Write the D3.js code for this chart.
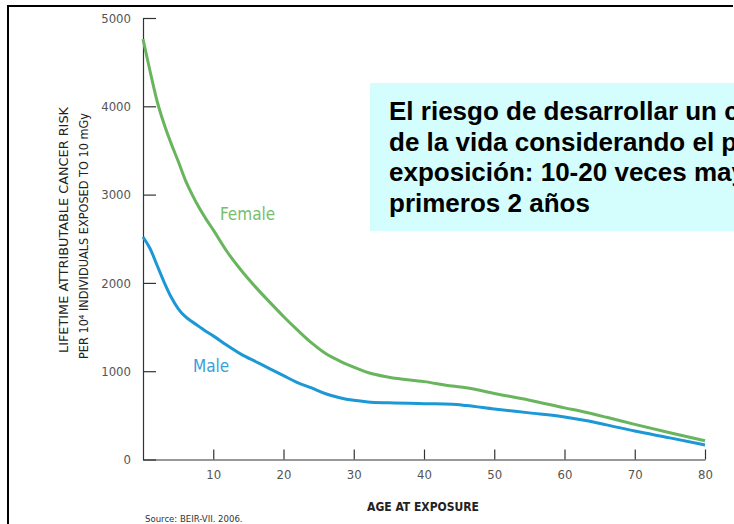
<!DOCTYPE html>
<html>
<head>
    <meta charset="utf-8">
    <title>Lifetime attributable cancer risk</title>
    <script src="https://d3js.org/d3.v7.min.js"></script>
    <style>
        body { margin: 0; background: #fff; }
        .cond { font-family: "DejaVu Sans Condensed", "Liberation Sans Narrow", "Roboto", sans-serif; }
    </style>
</head>
<body>
    <div id="chart"></div>

    <script>
        // Datos (BEIR-VII)
        const ages = [0, 1, 2, 3, 4, 5, 6, 7, 8, 9, 10, 12, 14, 16, 18, 20, 22, 24, 26, 28, 30, 32, 35, 40, 44, 46, 50, 55, 60, 63, 66, 70, 75, 80];
        const male = [2520, 2390, 2200, 2010, 1840, 1710, 1620, 1560, 1505, 1450, 1400, 1290, 1190, 1110, 1030, 950, 870, 810, 745, 700, 670, 652, 642, 632, 626, 612, 572, 528, 482, 442, 392, 322, 245, 165];
        const female = [4760, 4400, 4060, 3800, 3580, 3380, 3170, 3000, 2850, 2720, 2600, 2350, 2140, 1955, 1785, 1620, 1465, 1320, 1200, 1115, 1045, 985, 932, 882, 832, 812, 748, 672, 585, 535, 478, 398, 303, 212];
        const xTicks = [10, 20, 30, 40, 50, 60, 70, 80];
        const yTicks = [0, 1000, 2000, 3000, 4000, 5000];
        const noteLines = [
            "El riesgo de desarrollar un cáncer a lo largo",
            "de la vida considerando el período de",
            "exposición: 10-20 veces mayor en los",
            "primeros 2 años"
        ];

        const width = 734;
        const height = 524;

        const svg = d3.select("#chart")
            .append("svg")
            .attr("width", width)
            .attr("height", height);

        // Marco
        svg.append("path")
            .attr("d", "M8,524 V6 H733")
            .attr("fill", "none")
            .attr("stroke", "#000")
            .attr("stroke-width", 2);

        // Escalas
        const x = d3.scaleLinear().domain([0, 80]).range([143, 705]);
        const y = d3.scaleLinear().domain([0, 5000]).range([459.5, 18]);

        // Eje Y
        const yAxis = svg.append("g")
            .attr("transform", "translate(143,0)")
            .call(d3.axisLeft(y).tickValues(yTicks).tickFormat(d3.format("d"))
                .tickSizeInner(-13).tickSizeOuter(0).tickPadding(12));
        // Eje X
        const xAxis = svg.append("g")
            .attr("transform", "translate(0,459.5)")
            .call(d3.axisBottom(x).tickValues(xTicks).tickSizeInner(-10).tickSizeOuter(0).tickPadding(10));

        [yAxis, xAxis].forEach(g => {
            g.selectAll("path, line").attr("stroke", "#333").attr("stroke-width", 1.2);
            g.selectAll("text")
                .attr("class", "cond")
                .attr("fill", "#555")
                .style("font-size", "13px");
        });

        // Cuadro de texto
        svg.append("rect")
            .attr("x", 370).attr("y", 83)
            .attr("width", 380).attr("height", 148)
            .attr("fill", "#d4fdfd");

        svg.append("g").selectAll("text")
            .data(noteLines)
            .join("text")
            .attr("x", 389)
            .attr("y", (d, i) => 120 + i * 30.5)
            .attr("font-family", "Arial, 'Liberation Sans', sans-serif")
            .attr("font-weight", "bold")
            .attr("font-size", 26)
            .attr("fill", "#000")
            .text(d => d);

        // Líneas
        const line = d3.line()
            .x((d, i) => x(ages[i]))
            .y(d => y(d))
            .curve(d3.curveMonotoneX);

        svg.append("path")
            .datum(female)
            .attr("fill", "none")
            .attr("stroke", "#68b55e")
            .attr("stroke-width", 3)
            .attr("d", line);

        svg.append("path")
            .datum(male)
            .attr("fill", "none")
            .attr("stroke", "#1b98d5")
            .attr("stroke-width", 3)
            .attr("d", line);

        // Etiquetas de series
        svg.append("text")
            .attr("class", "cond")
            .attr("x", 220).attr("y", 220)
            .attr("fill", "#77bd6c")
            .style("font-size", "17px")
            .text("Female");

        svg.append("text")
            .attr("class", "cond")
            .attr("x", 193).attr("y", 372)
            .attr("fill", "#3aa0d8")
            .style("font-size", "17px")
            .text("Male");

        // Títulos de ejes
        svg.append("text")
            .attr("class", "cond")
            .attr("transform", "translate(68,230) rotate(-90)")
            .attr("text-anchor", "middle")
            .attr("fill", "#222")
            .style("font-size", "12px")
            .attr("textLength", 246)
            .attr("lengthAdjust", "spacingAndGlyphs")
            .text("LIFETIME ATTRIBUTABLE CANCER RISK");

        svg.append("text")
            .attr("class", "cond")
            .attr("transform", "translate(88,236) rotate(-90)")
            .attr("text-anchor", "middle")
            .attr("fill", "#222")
            .style("font-size", "12px")
            .attr("textLength", 246)
            .attr("lengthAdjust", "spacingAndGlyphs")
            .text("PER 10⁴ INDIVIDUALS EXPOSED TO 10 mGy");

        svg.append("text")
            .attr("class", "cond")
            .attr("x", 423).attr("y", 511)
            .attr("text-anchor", "middle")
            .attr("fill", "#222")
            .attr("font-weight", "bold")
            .style("font-size", "12px")
            .text("AGE AT EXPOSURE");

        svg.append("text")
            .attr("class", "cond")
            .attr("x", 145).attr("y", 522)
            .attr("fill", "#333")
            .style("font-size", "9.5px")
            .text("Source:  BEIR-VII. 2006.");
    </script>
</body>
</html>
